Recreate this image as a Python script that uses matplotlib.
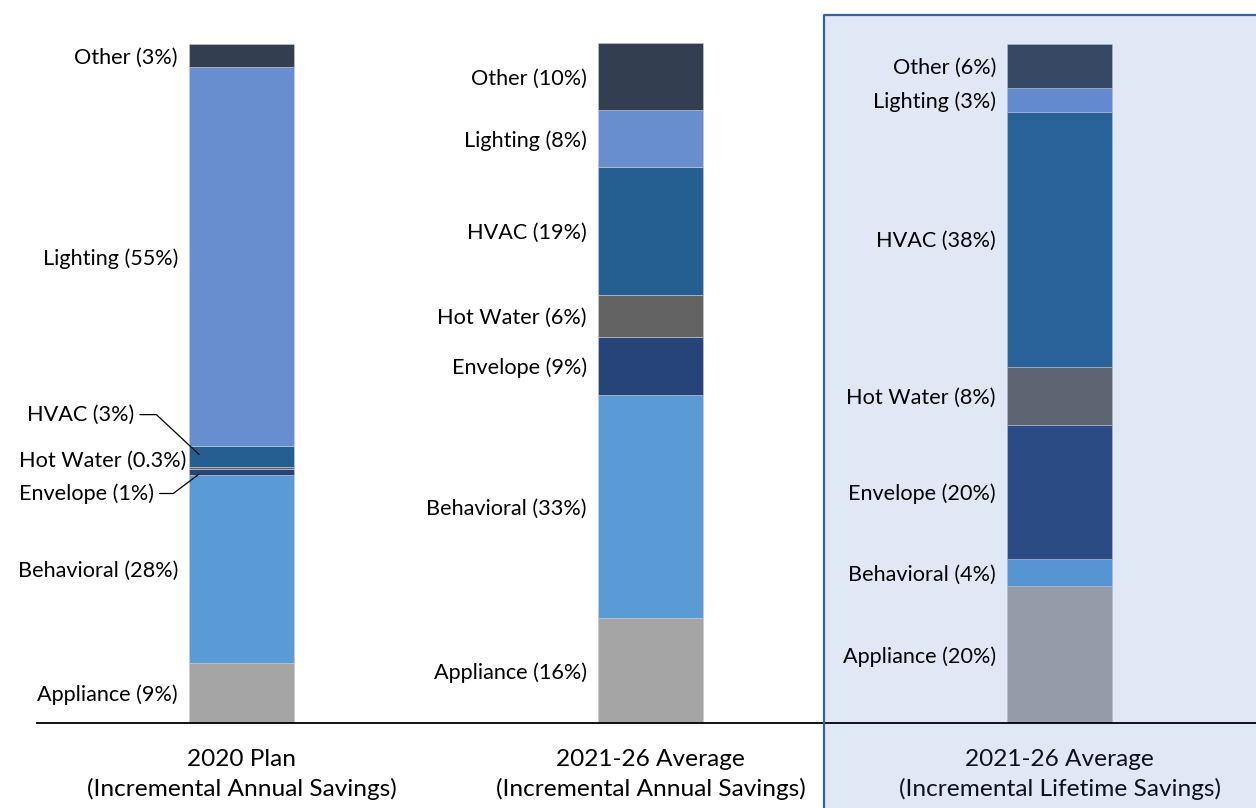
import matplotlib.pyplot as plt
from matplotlib.patches import Rectangle

plt.rcParams['font.family'] = ['Lato', 'DejaVu Sans']

categories = ['Appliance', 'Behavioral', 'Envelope', 'Hot Water', 'HVAC', 'Lighting', 'Other']
colors = ['#A5A5A5', '#5B9BD5', '#264478', '#636363', '#255E91', '#698ED0', '#333F50']

groups = ['2020 Plan\n(Incremental Annual Savings)',
          '2021-26 Average\n(Incremental Annual Savings)',
          '2021-26 Average\n(Incremental Lifetime Savings)']

# shares (%)
plan_2020 = [8.8, 27.6, 0.9, 0.3, 3.2, 55.6, 3.4]
avg_annual = [15.4, 32.8, 8.5, 6.2, 18.8, 8.4, 9.9]
avg_lifetime = [20.1, 4.0, 19.7, 8.5, 37.6, 3.5, 6.5]

labels_2020 = ['9%', '28%', '1%', '0.3%', '3%', '55%', '3%']
labels_annual = ['16%', '33%', '9%', '6%', '19%', '8%', '10%']
labels_lifetime = ['20%', '4%', '20%', '8%', '38%', '3%', '6%']

series = [plan_2020, avg_annual, avg_lifetime]
labels = [labels_2020, labels_annual, labels_lifetime]

fig = plt.figure(figsize=(12.56, 8.08), dpi=100)
ax = fig.add_axes([37 / 1256, 85 / 808, 1 - 37 / 1256, 680 / 808])
ax.set_xlim(-0.5, 2.4804)
ax.set_ylim(0, 100)

width = 0.257
fs = 15.6
dy = -0.25  # small nudge so text sits like the original
for i, vals in enumerate(series):
    bottom = 0
    for j, v in enumerate(vals):
        ax.bar(i, v, width, bottom=bottom, color=colors[j], edgecolor='#C8CCD2', linewidth=0.4, zorder=2)
        txt = f'{categories[j]} ({labels[i][j]})'
        mid = bottom + v / 2
        if i == 0 and categories[j] in ('Envelope', 'Hot Water', 'HVAC'):
            if categories[j] == 'HVAC':
                ax.annotate(txt, xy=(i - width / 2 + 0.03, mid), xytext=(-0.262, 45.6 + dy),
                            ha='right', va='center', fontsize=fs,
                            arrowprops=dict(arrowstyle='-', color='black', lw=0.9,
                                            connectionstyle='angle,angleA=0,angleB=-43,rad=0'),
                            zorder=4)
            elif categories[j] == 'Hot Water':
                ax.text(-0.135, 38.5, txt, ha='right', va='center', fontsize=fs, zorder=4)
            else:
                ax.annotate(txt, xy=(i - width / 2 + 0.03, mid), xytext=(-0.214, 34.0 + dy),
                            ha='right', va='center', fontsize=fs,
                            arrowprops=dict(arrowstyle='-', color='black', lw=0.9,
                                            connectionstyle='angle,angleA=0,angleB=37,rad=0'),
                            zorder=4)
        else:
            ax.text(i - width / 2 - 0.027, mid + dy, txt, ha='right', va='center', fontsize=fs, zorder=4)
        bottom += v

for s in ['top', 'right', 'left']:
    ax.spines[s].set_visible(False)
ax.spines['bottom'].set_linewidth(1.3)
ax.spines['bottom'].set_zorder(3)
ax.set_yticks([])
ax.set_xticks(range(3))
ax.set_xticklabels(groups, fontsize=17.6, linespacing=1.42)
ax.tick_params(axis='x', length=0, pad=19)

# shaded highlight over the lifetime column
ax.add_patch(Rectangle((824 / 1256, 0), 1, (808 - 15) / 808, transform=fig.transFigure,
                       facecolor='#4472C4', alpha=0.16, edgecolor='none', clip_on=False, zorder=2.5))
ax.plot([824 / 1256, 824 / 1256, 1.0], [0, (808 - 15) / 808, (808 - 15) / 808],
        transform=fig.transFigure, color='#3A5F9E', lw=1.6, clip_on=False, zorder=5)

fig.savefig('out.png', dpi=100)
